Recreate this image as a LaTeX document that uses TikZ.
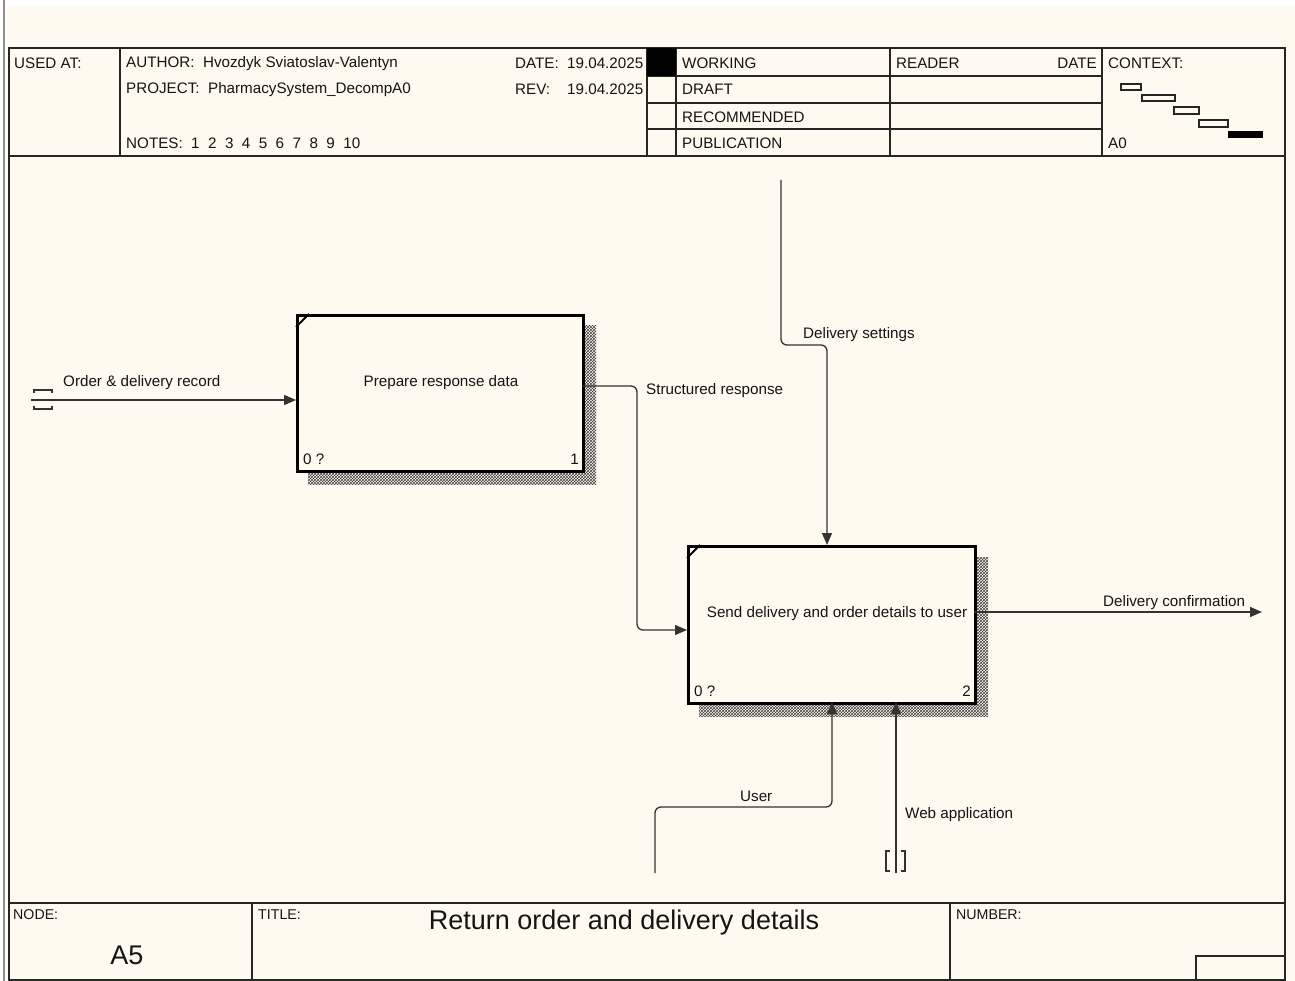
\documentclass[tikz,border=0pt]{standalone}
\usepackage{fontspec}
\setmainfont{Liberation Sans}
\usetikzlibrary{arrows.meta,patterns}
\definecolor{cream}{HTML}{FFFAF0}
\definecolor{ink}{HTML}{141414}
\newcommand{\lblfont}{\fontsize{15.2}{17}\selectfont}
\newcommand{\smallfont}{\fontsize{14.2}{16}\selectfont}
\newcommand{\bigfont}{\fontsize{27}{30}\selectfont}
\tikzset{
  frame/.style={draw=black!85, line width=1.4pt},
  thin/.style={draw=black!85, line width=1.1pt},
  procbox/.style={draw=black, line width=2.7pt, fill=cream, inner sep=0, anchor=north west},
  shadow/.style={pattern=crosshatch, pattern color=black!75},
  conn/.style={draw=black!80, line width=1.3pt, rounded corners=6pt},
  arr/.style={conn, -{Triangle[length=12pt,width=10pt]}},
  tun/.style={draw=black!80, line width=1.3pt},
  lbl/.style={font=\lblfont, inner sep=0, anchor=west, text=ink, yshift=-1.5pt},
  sml/.style={font=\smallfont, inner sep=0, anchor=west, text=ink, yshift=-1pt},
}
\begin{document}
\begin{tikzpicture}[x=1pt,y=-1pt]
\useasboundingbox (0,0) rectangle (1295,981);
% background
\fill[white] (0,0) rectangle (1295,981);
\fill[cream] (6,6) rectangle (1295,981);
\draw[black!45, line width=2pt] (4,0) -- (4,981);
% outer frame
\draw[frame] (9,48) rectangle (1285,980);
\draw[frame] (9,156) -- (1285,156);
\draw[frame] (9,903) -- (1285,903);
% header columns
\draw[frame] (120,48) -- (120,156);
\draw[frame] (647,48) -- (647,156);
\draw[frame] (676,48) -- (676,156);
\draw[frame] (890,48) -- (890,156);
\draw[frame] (1102,48) -- (1102,156);
\foreach \yy in {76,103,129} \draw[frame] (647,\yy) -- (1102,\yy);
\fill[black] (647,48) rectangle (676,76);
% header texts
\node[lbl] (usedat) at (14,62) {USED AT:};
\node[lbl] (author) at (126,62) {AUTHOR:\ \ Hvozdyk Sviatoslav-Valentyn};
\node[lbl] (project) at (126,88) {PROJECT:\ \ PharmacySystem\_DecompA0};
\node[lbl] (notes) at (126,142) {NOTES:\ \ 1\ \ 2\ \ 3\ \ 4\ \ 5\ \ 6\ \ 7\ \ 8\ \ 9\ \ 10};
\node[lbl] (date) at (515,62) {DATE:};
\node[lbl] (dateval) at (567,62) {19.04.2025};
\node[lbl] (rev) at (515,88) {REV:};
\node[lbl] (revval) at (567,88) {19.04.2025};
\node[lbl] (working) at (682,62) {WORKING};
\node[lbl] (draft) at (682,88) {DRAFT};
\node[lbl] (recom) at (682,116) {RECOMMENDED};
\node[lbl] (public) at (682,142) {PUBLICATION};
\node[lbl] (reader) at (896,62) {READER};
\node[lbl, anchor=east] (rdate) at (1097,62) {DATE};
\node[lbl] (context) at (1108,62) {CONTEXT:};
\node[lbl] (azero) at (1108,142) {A0};
% context mini map
\draw[thin] (1121,84) rectangle (1141,90);
\draw[thin] (1142,95) rectangle (1175,101);
\draw[thin] (1174,107) rectangle (1199,114);
\draw[thin] (1199,120) rectangle (1228,127);
\fill[black] (1228,131) rectangle (1263,138);
% footer
\draw[frame] (252,903) -- (252,980);
\draw[frame] (950,903) -- (950,980);
\draw[frame] (1196,980) -- (1196,956) -- (1285,956);
\node[sml] (nodelbl) at (13,914) {NODE:};
\node[sml] (titlelbl) at (258,914) {TITLE:};
\node[sml] (numlbl) at (956,914) {NUMBER:};
\node[font=\bigfont, inner sep=0, text=ink] (nodeid) at (127,955) {A5};
\node[font=\bigfont, inner sep=0, text=ink] (title) at (624,923) {Return order and delivery details};
% process boxes
\fill[shadow] (308,326) rectangle (596,484);
\node[procbox, minimum width=286pt, minimum height=156pt] (b1) at (296,314) {};
\draw[line width=2pt] (296,327) -- (309,314);
\node[lbl, anchor=center] (b1t) at (441,381) {Prepare response data};
\node[lbl] (b1c) at (303,458) {0 ?};
\node[lbl, anchor=east] (b1n) at (579,458) {1};
\fill[shadow] (699,557) rectangle (988,716);
\node[procbox, minimum width=287pt, minimum height=157pt] (b2) at (687,545) {};
\draw[line width=2pt] (687,558) -- (700,545);
\node[lbl, anchor=center] (b2t) at (837,612) {Send delivery and order details to user};
\node[lbl] (b2c) at (694,690) {0 ?};
\node[lbl, anchor=east] (b2n) at (971,690) {2};
% coordinates
\coordinate (t1) at (31,400);
\coordinate (o1) at (582,386);
\coordinate (i2) at (687,630);
\coordinate (c0) at (781,180);
\coordinate (c2) at (827,545);
\coordinate (o2) at (974,612);
\coordinate (oend) at (1262,612);
\coordinate (m0) at (655,873);
\coordinate (m2) at (832,702);
\coordinate (w0) at (896,873);
\coordinate (w2) at (896,702);
% connectors
\draw[arr] (t1) -- (t1 -| b1.west);
\draw[tun] (34,393) -- (34,390) -- (52,390) -- (52,393);
\draw[tun] (34,406) -- (34,409) -- (52,409) -- (52,406);
\draw[arr] (o1) -- (637,386) -- (637,630) -- (i2);
\draw[arr] (c0) -- (781,345) -- (827,345) -- (c2);
\draw[arr] (o2) -- (oend);
\draw[arr] (m0) -- (655,807) -- (832,807) -- (m2);
\draw[arr] (w0) -- (w2);
\draw[tun] (890,851) -- (886,851) -- (886,871) -- (890,871);
\draw[tun] (901,851) -- (905,851) -- (905,871) -- (901,871);
% labels
\node[lbl] (l1) at (63,381) {Order \& delivery record};
\node[lbl] (l2) at (646,389) {Structured response};
\node[lbl] (l3) at (803,333) {Delivery settings};
\node[lbl] (l4) at (1103,601) {Delivery confirmation};
\node[lbl] (l5) at (740,795) {User};
\node[lbl] (l6) at (905,813) {Web application};
\end{tikzpicture}
\end{document}
